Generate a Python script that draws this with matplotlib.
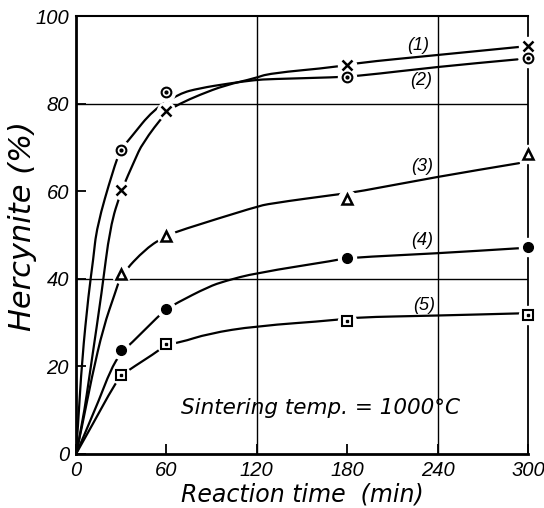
import matplotlib.pyplot as plt
from matplotlib.path import Path
from matplotlib.patches import PathPatch

# Measured points (reaction time in min, hercynite %)
t_meas = [30, 60, 180, 300]
meas_1 = [60.3, 78.2, 88.8, 93.2]
meas_2 = [69.3, 82.6, 86.0, 90.5]
meas_3 = [41.2, 49.8, 58.3, 68.5]
meas_4 = [23.7, 33.2, 44.8, 47.2]
meas_5 = [18.0, 25.1, 30.4, 31.7]

# Hand-drawn curves
curve1_t = [0, 4, 10.5, 17, 22.6, 30, 39, 44, 60, 69, 82, 99, 119, 128, 174, 184, 240, 296]
curve1_v = [0, 6.2, 21.5, 36.7, 51.9, 60.1, 67.1, 70.9, 78.2, 80.0, 82.0, 84.2, 85.8, 86.9, 88.4, 89.2, 91.1, 93.0]
curve2_t = [0, 1.3, 4, 8.4, 11.4, 13.8, 24.6, 29.5, 36.7, 51, 68.6, 81.8, 101.5, 119, 129, 172, 187.5, 240, 293]
curve2_v = [0, 6.2, 21.5, 36.7, 44.3, 51.9, 64.8, 69.4, 72.4, 78.5, 82.3, 83.5, 84.6, 85.4, 85.6, 86.0, 86.3, 88.4, 90.1]
curve3_t = [0, 4, 10.5, 18.2, 25.9, 29.9, 46.6, 59.8, 68.6, 119, 129, 174, 186, 240, 294]
curve3_v = [0, 6.2, 17.6, 29.0, 36.7, 40.9, 47.0, 49.8, 51.0, 56.4, 57.2, 59.3, 59.8, 63.3, 66.4]
curve4_t = [0, 12.7, 23.7, 31.4, 35.6, 55.4, 59.8, 66.4, 88, 99, 119, 174, 180, 239, 295]
curve4_v = [0, 10.0, 19.9, 23.7, 24.9, 31.7, 33.0, 34.4, 38.2, 39.5, 41.3, 44.3, 44.8, 45.8, 47.0]
curve5_t = [0, 12.7, 24.8, 30.3, 37.8, 55.4, 59.8, 68.6, 88, 119, 174, 184, 239, 294]
curve5_v = [0, 7.8, 15.4, 18.0, 19.8, 23.7, 25.1, 25.4, 27.5, 29.2, 30.6, 31.2, 31.6, 32.1]

curve_labels = ['(1)', '(2)', '(3)', '(4)', '(5)']
label_t = [227, 229, 230, 230, 231]
label_v = [93.2, 85.2, 65.6, 48.7, 34.0]

x_ticks = [0, 60, 120, 180, 240, 300]
y_ticks = [0, 20, 40, 60, 80, 100]

hand = ['Liberation Sans', 'DejaVu Sans']


def smooth_path(ts, vs):
    # quadratic pieces through the midpoints, read points act as controls
    pts = list(zip(ts, vs))
    verts = [pts[0]]
    codes = [Path.MOVETO]
    for i in range(1, len(pts) - 1):
        mid = ((pts[i][0] + pts[i + 1][0]) / 2, (pts[i][1] + pts[i + 1][1]) / 2)
        verts += [pts[i], mid]
        codes += [Path.CURVE3, Path.CURVE3]
    verts.append(pts[-1])
    codes.append(Path.LINETO)
    return Path(verts, codes)


fig = plt.figure(figsize=(5.44, 5.08), dpi=100)
ax = fig.add_axes([0.1397, 0.1063, 0.831, 0.8622])
ax.set_xlim(0, 300)
ax.set_ylim(0, 100)

# grid lines at 120/240 and 40/80
for gx in [120, 240]:
    ax.axvline(gx, color='black', lw=1.0, zorder=1)
for gy in [40, 80]:
    ax.axhline(gy, color='black', lw=1.0, zorder=1)

curves = [(curve1_t, curve1_v), (curve2_t, curve2_v), (curve3_t, curve3_v),
          (curve4_t, curve4_v), (curve5_t, curve5_v)]
for ct, cv in curves:
    ax.add_patch(PathPatch(smooth_path(ct, cv), fc='none', ec='black', lw=1.6,
                           capstyle='round', zorder=2))

# white halos leave the gaps round each point
for vals in [meas_1, meas_2, meas_3, meas_4, meas_5]:
    ax.plot(t_meas, vals, ls='none', marker='o', ms=14, mfc='white', mec='none',
            zorder=3, clip_on=False)

ax.plot(t_meas, meas_1, ls='none', marker='x', ms=7, mew=1.8, color='black',
        zorder=4, clip_on=False)
ax.plot(t_meas, meas_2, ls='none', marker='o', ms=7, mew=1.5, mfc='white',
        mec='black', zorder=4, clip_on=False)
ax.plot(t_meas, meas_2, ls='none', marker='o', ms=2, color='black', zorder=5, clip_on=False)
ax.plot(t_meas, meas_3, ls='none', marker='^', ms=7.5, mew=1.8, mfc='white',
        mec='black', zorder=4, clip_on=False)
ax.plot(t_meas, meas_4, ls='none', marker='o', ms=7, color='black', zorder=4, clip_on=False)
ax.plot(t_meas, meas_5, ls='none', marker='s', ms=6.5, mew=1.5, mfc='white',
        mec='black', zorder=4, clip_on=False)
ax.plot(t_meas, meas_5, ls='none', marker='s', ms=1.8, color='black', zorder=5, clip_on=False)

for lab, lt, lv in zip(curve_labels, label_t, label_v):
    ax.text(lt, lv, lab, ha='center', va='center', fontsize=13, style='italic',
            family=hand, zorder=6)

ax.text(162, 10.5, 'Sintering temp. = 1000°C', ha='center', va='center',
        fontsize=15.5, style='italic', zorder=6)

ax.set_xticks(x_ticks)
ax.set_yticks(y_ticks)
ax.set_xticklabels([str(v) for v in x_ticks], fontsize=14.5, style='italic', family=hand)
ax.set_yticklabels([str(v) for v in y_ticks], fontsize=14.5, style='italic', family=hand)
ax.tick_params(direction='in', length=7, width=1.3, pad=5)

for side, w in [('left', 2.0), ('bottom', 2.0), ('top', 1.5), ('right', 1.3)]:
    ax.spines[side].set_linewidth(w)

ax.set_xlabel('Reaction time  (min)', fontsize=17, style='italic', labelpad=2)
fig.text(0.042, 0.555, 'Hercynite (%)', rotation=90, ha='center', va='center',
         fontsize=22, style='italic')

fig.savefig('out.png', dpi=100)
